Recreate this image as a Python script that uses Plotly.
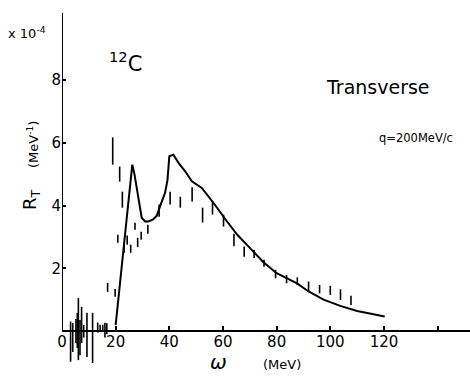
import plotly.graph_objects as go

# Theory curve (omega in MeV, R_T in 1e-4 MeV^-1)
theory_w = [20, 23, 26.2, 27.0, 27.9, 29.7, 31, 32.2, 33.8, 35.3, 36.6, 38.4, 39.3, 40, 41.5,
            43.5, 45.9, 48.4, 52.1, 56.5, 61.5, 65.5, 70.1, 75, 80, 87.6, 91.9, 97.5,
            103.7, 110, 120.3]
theory_r = [0.19, 2.7, 5.3, 5.0, 4.5, 3.61, 3.49, 3.49, 3.55, 3.67, 3.99, 4.4, 4.8, 5.57,
            5.62, 5.35, 5.09, 4.77, 4.56, 4.08, 3.49, 3.05, 2.64, 2.2, 1.84, 1.52, 1.26,
            1.0, 0.8, 0.64, 0.46]

# Experimental points drawn as vertical error bars (low / high ends)
exp_w = [3.2, 4.0, 5.2, 5.7, 6.1, 6.7, 7.3, 8.1, 9.3, 11.4, 13.3, 14.2, 15.2, 16.0, 16.7,
         17.0, 18.9, 19.8, 20.8, 21.5, 22.5, 23.1, 24.3, 25.6, 27.2, 28.2, 29.5, 32.0,
         36.2, 40.3, 44.1, 48.5, 52.4, 56.1, 60.2, 64.1, 67.9, 71.6, 75.3, 79.6, 83.7,
         87.7, 91.9, 96.0, 100.0, 103.8, 107.7]
exp_lo = [-0.98, -0.67, -0.38, -0.54, -0.93, -0.77, -0.38, -0.21, -0.83, -1.02, -0.05, 0.0,
          0.0, -0.21, -0.10,
          1.25, 5.30, 1.09, 2.81, 4.76, 3.93, 2.49, 2.75, 2.49, 3.23, 2.68, 2.91, 3.10,
          3.64, 4.03, 3.93, 4.13, 3.46, 3.71, 3.33, 2.70, 2.37, 2.33, 2.05, 1.68, 1.52,
          1.47, 1.26, 1.20, 1.15, 0.99, 0.83]
exp_hi = [0.30, 0.26, 0.38, 0.58, 1.05, 0.35, 0.77, 0.19, 0.58, 0.58, 0.27, 0.20,
          0.20, 0.26, 0.25,
          1.53, 6.17, 1.34, 3.07, 5.24, 4.44, 2.81, 3.04, 2.75, 3.45, 2.97, 3.16, 3.39,
          4.03, 4.44, 4.28, 4.58, 3.93, 4.13, 3.71, 3.10, 2.69, 2.59, 2.27, 1.95, 1.79,
          1.71, 1.58, 1.47, 1.44, 1.33, 1.12]

x_ticks = [0, 20, 40, 60, 80, 100, 120, 140]
x_tick_labels = ["0", "20", "40", "60", "80", "100", "120", ""]
y_ticks = [2, 4, 6, 8]
y_tick_labels = ["2", "4", "6", "8"]

W, H = 470, 376
L, T = 62, 13
PW, PH = W - L, H - T
XPX = 2.683   # px per MeV
YPX = 31.375  # px per unit
y0_px = 331

x_range = [0, PW / XPX]
y_range = [-(H - y0_px) / YPX, (y0_px - T) / YPX]

FONT = "DejaVu Sans"

fig = go.Figure()

fig.add_trace(go.Scatter(
    x=exp_w, y=exp_lo, mode="markers",
    marker=dict(size=0.1, color="black", opacity=0),
    error_y=dict(type="data", symmetric=False,
                 array=[h - l for h, l in zip(exp_hi, exp_lo)],
                 arrayminus=[0] * len(exp_lo),
                 color="black", thickness=1.6, width=0),
    hoverinfo="skip", showlegend=False))

fig.add_trace(go.Scatter(
    x=theory_w, y=theory_r, mode="lines",
    line=dict(color="black", width=2),
    showlegend=False))

# Y axis line from 0 upward
fig.add_shape(type="line", xref="x", yref="y", x0=0, x1=0, y0=0, y1=y_range[1],
              line=dict(color="black", width=2))


def px2paper(px, py):
    return (px - L) / PW, (H - py) / PH


def note(text, px, py, size, **kw):
    xp, yp = px2paper(px, py)
    fig.add_annotation(text=text, xref="paper", yref="paper", x=xp, y=yp,
                       showarrow=False, font=dict(family=FONT, size=size, color="black"),
                       xanchor="center", yanchor="middle", **kw)


note("x 10<sup>-4</sup>", 27, 33, 13)
note("<sup>12</sup>C", 125, 62, 21)
note("Transverse", 378, 87, 19)
note("q=200MeV/c", 416, 138, 11.5)
note("R<sub>T</sub>", 31, 200, 18, textangle=-90)
note("(MeV<sup>-1</sup>)", 33, 145, 13, textangle=-90)
note("<i>ω</i>", 218, 362, 20)
note("(MeV)", 282, 364, 13)

fig.update_layout(
    width=W, height=H,
    margin=dict(l=L, r=0, t=T, b=0),
    paper_bgcolor="white", plot_bgcolor="white",
    font=dict(family=FONT, size=14, color="black"),
    xaxis=dict(range=x_range, showgrid=False, zeroline=False, showline=False,
               tickmode="array", tickvals=x_ticks, ticktext=x_tick_labels,
               ticks="inside", ticklen=5, tickwidth=1.5, tickcolor="black",
               anchor="free", position=(H - y0_px) / PH,
               tickfont=dict(family=FONT, size=15)),
    yaxis=dict(range=y_range, showgrid=False, zeroline=True, zerolinecolor="black",
               zerolinewidth=2, showline=False,
               tickmode="array", tickvals=y_ticks, ticktext=y_tick_labels,
               ticks="inside", ticklen=4, tickwidth=1.5, tickcolor="black",
               tickfont=dict(family=FONT, size=15)),
)

fig.write_html("out.html")
